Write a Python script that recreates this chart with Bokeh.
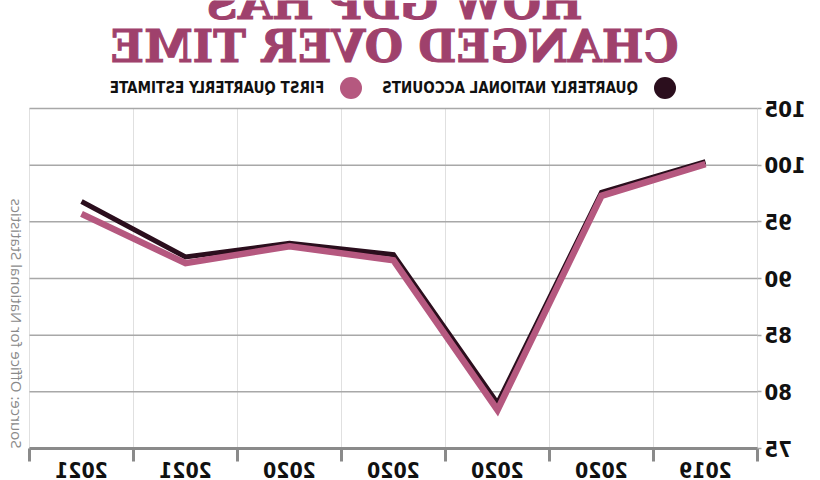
import numpy as np
from bokeh.plotting import figure
from bokeh.models import FixedTicker, Range1d, Label, Legend, LegendItem
from bokeh.embed import file_html
from bokeh.resources import INLINE

# ---- data ----
quarters = ["2019", "2020", "2020", "2020", "2020", "2021", "2021"]
quarterly_national_accounts = [100.3, 97.6, 79.0, 92.1, 93.1, 91.9, 96.8]
first_quarterly_estimate = [100.1, 97.3, 78.4, 91.6, 92.85, 91.35, 95.7]
y_ticks = [75, 80, 85, 90, 95, 100, 105]
title_lines = ["HOW GDP HAS", "CHANGED OVER TIME"]
series_names = ["QUARTERLY NATIONAL ACCOUNTS", "FIRST QUARTERLY ESTIMATE"]
source_text = "Source: Office for National Statistics"

# ---- style ----
DARK = "#2b0e1d"
PINK = "#b5587f"
TITLE_COL = "#9f416c"
COND = "DejaVu Sans Condensed"
W, H = 820, 480
# pixel box of the gridded area (unmirrored canvas coords)
GX0, GX1, GY0, GY1 = 62, 790, 108, 448

n = len(quarters)
centers = list(range(1, n + 1))
boundaries = [c - 0.5 for c in centers] + [n + 0.5]
x_lo, x_hi = boundaries[0], boundaries[-1]
y_lo, y_hi = y_ticks[0], y_ticks[-1]
ppx = (GX1 - GX0) / (x_hi - x_lo)
ppy = (GY1 - GY0) / (y_hi - y_lo)

x_range = Range1d(x_lo - GX0 / ppx, x_hi + (W - GX1) / ppx)
y_range = Range1d(y_lo - (H - GY1) / ppy, y_hi + GY0 / ppy)

p = figure(width=W, height=H, output_backend="svg", toolbar_location=None,
           x_range=x_range, y_range=y_range, min_border=0,
           styles={"transform": "scaleX(-1)"})
p.outline_line_color = None
p.background_fill_color = "white"
p.border_fill_color = "white"
p.xgrid.visible = False
p.ygrid.visible = False

# grid lines limited to the data box
p.segment(x0=boundaries, y0=[y_lo] * len(boundaries), x1=boundaries,
          y1=[y_hi] * len(boundaries), line_color="#e0e0e0", line_width=1)
p.segment(x0=[x_lo] * len(y_ticks), y0=y_ticks, x1=[x_hi] * len(y_ticks),
          y1=y_ticks, line_color="#a8a8a8", line_width=1.5)

# x axis fixed at the bottom of the data box
xa = p.xaxis[0]
xa.fixed_location = y_lo
xa.bounds = (x_lo, x_hi)
xa.ticker = FixedTicker(ticks=centers, minor_ticks=boundaries)
xa.major_label_overrides = {c: q for c, q in zip(centers, quarters)}
xa.major_tick_line_color = None
xa.major_tick_out = 13
xa.major_tick_in = 0
xa.minor_tick_out = 13
xa.minor_tick_in = 0
xa.minor_tick_line_color = "#8a8a8a"
xa.minor_tick_line_width = 3
xa.axis_line_color = "#8a8a8a"
xa.axis_line_width = 3
xa.major_label_standoff = 0
xa.major_label_text_font = COND
xa.major_label_text_font_style = "bold"
xa.major_label_text_font_size = "21px"
xa.major_label_text_color = "#111111"

# y axis fixed at the left of the data box
ya = p.yaxis[0]
ya.fixed_location = x_lo
ya.bounds = (y_lo, y_hi)
ya.ticker = FixedTicker(ticks=y_ticks)
ya.axis_line_color = None
ya.minor_tick_line_color = None
ya.major_tick_out = 4
ya.major_tick_in = 0
ya.major_tick_line_color = "#a8a8a8"
ya.major_tick_line_width = 1.5
ya.major_label_standoff = 3
ya.major_label_text_font = COND
ya.major_label_text_font_style = "bold"
ya.major_label_text_font_size = "22px"
ya.major_label_text_color = "#111111"

# series lines
p.line(centers, quarterly_national_accounts, line_color=DARK, line_width=5,
       line_join="miter")
p.line(centers, first_quarterly_estimate, line_color=PINK, line_width=6.5,
       line_join="miter")

# hidden markers used only as legend glyphs
m1 = p.scatter(centers, quarterly_national_accounts, size=8, fill_color=DARK,
               line_color=None, visible=False)
m2 = p.scatter(centers, first_quarterly_estimate, size=8, fill_color=PINK,
               line_color=None, visible=False)
legend = Legend(items=[LegendItem(label=series_names[0], renderers=[m1]),
                       LegendItem(label=series_names[1], renderers=[m2])],
                orientation="horizontal", location=(127, 365),
                glyph_width=55, glyph_height=55, label_standoff=-11,
                spacing=3, padding=0, margin=0,
                border_line_color=None, background_fill_alpha=0,
                label_text_font=COND, label_text_font_style="bold",
                label_text_font_size="15px", label_text_color="#111111")
p.add_layout(legend)

# title (two lines, the first one runs off the top edge)
for txt, mid in zip(title_lines, [3, 46]):
    p.add_layout(Label(x=425, y=H - mid, x_units="screen", y_units="screen",
                       text=txt, text_align="center", text_baseline="middle",
                       text_font="DejaVu Serif", text_font_style="bold",
                       text_font_size="44px", text_color=TITLE_COL,
                       text_outline_color=TITLE_COL))

# source, running up the side
p.add_layout(Label(x=W - 17, y=H - GY1, x_units="screen", y_units="screen",
                   text=source_text, angle=np.pi / 2,
                   text_align="left", text_baseline="middle",
                   text_font="Open Sans", text_font_size="15px",
                   text_color="#8a8a8a"))

open("out.html", "w").write(file_html(p, INLINE))
